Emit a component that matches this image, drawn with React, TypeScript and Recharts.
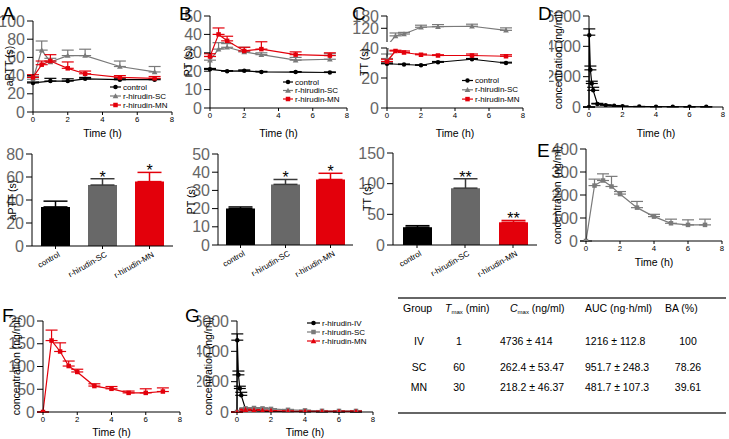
import React from 'react';
import { LineChart, Line, BarChart, Bar, XAxis, YAxis, ErrorBar, LabelList } from 'recharts';

const FONT = '"Liberation Sans", Arial, Helvetica, sans-serif';
const RED = '#e3000b';
const GRAY = '#7a7a7a';
const BAR_GRAY = '#686868';
const BLACK = '#000000';

// coagulation time course (A-C, top row)
const ctrlTime = [0, 1, 2, 3, 5, 7];
const doseTime = [0, 0.5, 1, 2, 3, 5, 7];

const apttCtrl = [32, 34, 34, 36.5, 35.5, 35.5];
const apttCtrlErr = [1, 3, 2.5, 1.5, 1, 1];
const apttSc = [36, 68, 55, 62, 62, 50, 44];
const apttScErr = [3, 10, 4, 6, 7, 6, 6];
const apttMn = [38, 52, 56, 48, 42, 38, 37];
const apttMnErr = [3, 4, 7, 7, 3, 2, 2];

const ptCtrl = [21, 20, 20.2, 19.6, 19.5, 19.3];
const ptCtrlErr = [0.5, 0.3, 0.5, 0.3, 0.3, 0.3];
const ptSc = [26, 32, 33, 30.5, 29, 26, 26.5];
const ptScErr = [2, 3.5, 2, 2.5, 1, 1.5, 3];
const ptMn = [28, 40, 36.5, 31, 32, 29, 28.5];
const ptMnErr = [1.5, 3.5, 2.5, 2, 4, 1.5, 1.5];

const ttCtrl = [29.5, 29, 28.5, 30.5, 32.5, 30];
const ttCtrlErr = [0.5, 0.3, 0.3, 0.5, 0.5, 0.5];
const ttSc = [33, 83, 92, 125, 128, 130, 110];
const ttScErr = [3, 14, 8, 10, 10, 10, 12];
const ttMn = [31, 38, 37, 35.5, 35, 35, 34.5];
const ttMnErr = [1.5, 0.5, 1, 0.5, 0.5, 1, 1];

// bar summaries (A-C, middle row)
const groups = ['control', 'r-hirudin-SC', 'r-hirudin-MN'];
const barKeys = ['c', 's', 'm'];
const barFill = [BLACK, BAR_GRAY, RED];
const barErrColor = [BLACK, '#3a3a3a', RED];
const apttBar = [34, 53, 56];
const apttBarErr = [5, 5.5, 8];
const apttSig = ['', '*', '*'];
const ptBar = [20, 33.3, 36];
const ptBarErr = [0.9, 2.7, 3.4];
const ptSig = ['', '*', '*'];
const ttBar = [29, 92.7, 37];
const ttBarErr = [2.5, 15.3, 3];
const ttSig = ['', '**', '**'];

// pharmacokinetics (D-G)
const ivTime = [0, 0.0167, 0.083, 0.167, 0.25, 0.5, 1, 1.5, 2, 3, 4, 5, 6, 7];
const ivConc = [0, 4736, 2450, 1550, 1100, 200, 120, 80, 50, 30, 20, 15, 10, 10];
const ivErr = [0, 414, 250, 150, 200, 40, 20, 15, 10, 5, 5, 5, 5, 5];
const pkTime = [0, 0.5, 1, 1.5, 2, 3, 4, 5, 6, 7];
const scConc = [0, 241, 263, 237, 204, 145, 106, 77, 70, 70];
const scErr = [0, 28, 29, 44, 11, 27, 10, 18, 22, 25];
const mnConc = [0, 157, 133, 101, 88, 57, 51, 42, 42, 45];
const mnErr = [0, 23, 19, 11, 6, 5, 5, 4, 9, 8];

// PK parameter table
const tblGroup = ['IV', 'SC', 'MN'];
const tblTmax = ['1', '60', '30'];
const tblCmax = ['4736 ± 414', '262.4 ± 53.47', '218.2 ± 46.37'];
const tblAuc = ['1216 ± 112.8', '951.7 ± 248.3', '481.7 ± 107.3'];
const tblBa = ['100', '78.26', '39.61'];

type Rect = { x0: number; y0: number; x1: number; y1: number };
type Shape = 'circle' | 'square' | 'triangle';
type Pt = { t: number; v: number; err?: number[] };
type Series = { name: string; data: Pt[]; color: string; shape: Shape };

const L = 40;
const T = 6;
const R = 8;

// y axis look is set with css so the axis keeps recharts' default tick handling
const css = `
.recharts-yAxis .recharts-cartesian-axis-tick-value { font-size: 7.8px; fill: #000; font-family: ${FONT}; }
.recharts-yAxis .recharts-cartesian-axis-line,
.recharts-yAxis .recharts-cartesian-axis-tick-line { stroke: #000; }
`;

// place a chart so its plot area lands on rect r (page coords)
const frame = (r: Rect, b: number) => ({
  style: { position: 'absolute', left: r.x0 - L, top: r.y0 - T } as React.CSSProperties,
  width: r.x1 - r.x0 + L + R,
  height: r.y1 - r.y0 + T + b,
  margin: { top: T, right: R, bottom: 0, left: 0 },
});

const NumTick = ({ x, y, payload }: any) => (
  <text x={x} y={y} dy="0.72em" textAnchor="middle" fontSize={7.8} fontFamily={FONT} fill="#000">
    {payload.value}
  </text>
);

const axisStyle = {
  stroke: '#000',
  tickSize: 3,
  tickMargin: 1,
  interval: 0 as const,
  minTickGap: 0,
  tickLine: { stroke: '#000' },
  axisLine: { stroke: '#000' },
};

const pts = (t: number[], v: number[], e: number[]): Pt[] =>
  t.map((x, i) => ({ t: x, v: v[i], err: [0, e[i]] }));

const Mark = ({ cx, cy, shape, color, s = 4.5 }: any) => {
  if (cx == null || cy == null) return null;
  if (shape === 'circle') return <circle cx={cx} cy={cy} r={s / 2} fill={color} />;
  if (shape === 'square') return <rect x={cx - s / 2} y={cy - s / 2} width={s} height={s} fill={color} />;
  const h = s / 2 + 0.6;
  return <path d={`M${cx},${cy - h}L${cx + h},${cy + h * 0.8}L${cx - h},${cy + h * 0.8}Z`} fill={color} />;
};

const AxisText = ({ px, py, text, rotate }: any) => (
  <text
    x={px}
    y={py}
    transform={rotate ? `rotate(-90 ${px} ${py})` : undefined}
    textAnchor="middle"
    dominantBaseline={rotate ? 'central' : undefined}
    fontSize={10.5}
    fontFamily={FONT}
    fill="#000"
  >
    {text}
  </text>
);

const SlantTick = ({ x, y, payload }: any) => {
  const ax = x + 5;
  const ay = y + 6;
  return (
    <text x={ax} y={ay} transform={`rotate(-30 ${ax} ${ay})`} textAnchor="end" fontSize={8} fontFamily={FONT} fill="#000">
      {payload.value}
    </text>
  );
};

const Stars = (p: any) => {
  const vb = p.viewBox ?? p;
  if (!p.value) return null;
  return (
    <text x={vb.x + vb.width / 2} y={vb.y + 4} textAnchor="middle" fontSize={16} fontFamily={FONT} fill="#000">
      {p.value}
    </text>
  );
};

const LinePanel = ({ r, domain, ticks, lines, xTitleY, hideX = false }: any) => {
  const b = 40;
  const f = frame(r, b);
  const ox = r.x0 - L;
  const oy = r.y0 - T;
  const inside = (v: number) => v >= domain[0] && v <= domain[1];
  return (
    <div style={f.style}>
      <LineChart width={f.width} height={f.height} margin={f.margin}>
        <XAxis
          type="number"
          dataKey="t"
          domain={[0, 8]}
          ticks={[0, 2, 4, 6, 8]}
          height={b}
          {...axisStyle}
          tick={<NumTick />}
          {...(hideX ? { axisLine: false, tickLine: false, tick: false } : {})}
          label={xTitleY ? <AxisText px={(r.x0 + r.x1) / 2 - ox} py={xTitleY - oy} text="Time (h)" /> : undefined}
        />
        <YAxis type="number" width={L} domain={domain} ticks={ticks} allowDataOverflow interval={0} />
        {lines.map((s: Series) => (
          <Line
            key={s.name}
            name={s.name}
            data={s.data.map((d) => (inside(d.v) ? d : { ...d, err: undefined }))}
            dataKey="v"
            stroke={s.color}
            strokeWidth={1.2}
            isAnimationActive={false}
            activeDot={false}
            dot={(p: any) =>
              inside(p.payload.v) ? (
                <Mark key={`d${p.index}`} cx={p.cx} cy={p.cy} shape={s.shape} color={s.color} />
              ) : (
                <g key={`d${p.index}`} />
              )
            }
          >
            <ErrorBar dataKey="err" width={6} stroke={s.color} strokeWidth={1.2} direction="y" isAnimationActive={false} />
          </Line>
        ))}
      </LineChart>
    </div>
  );
};

const BarPanel = ({ r, domain, ticks, vals, errs, sigs }: any) => {
  const b = 48;
  const f = frame(r, b);
  const rows = groups.map((g, i) => ({
    name: g,
    [barKeys[i]]: vals[i],
    [barKeys[i] + 'E']: [0, errs[i]],
    cap: errs[i],
    sig: sigs[i],
  }));
  return (
    <div style={f.style}>
      <BarChart data={rows} width={f.width} height={f.height} margin={f.margin} barSize={29}>
        <XAxis dataKey="name" type="category" height={b} {...axisStyle} tick={<SlantTick />} />
        <YAxis type="number" width={L} domain={domain} ticks={ticks} allowDataOverflow interval={0} />
        {barKeys.map((k, i) => (
          <Bar key={k} dataKey={k} stackId="a" fill={barFill[i]} isAnimationActive={false}>
            <ErrorBar dataKey={k + 'E'} width={12} stroke={barErrColor[i]} strokeWidth={1.5} direction="y" isAnimationActive={false} />
          </Bar>
        ))}
        <Bar dataKey="cap" stackId="a" fill="none" isAnimationActive={false}>
          <LabelList dataKey="sig" content={<Stars />} />
        </Bar>
      </BarChart>
    </div>
  );
};

const KeyBox = ({ x, tx, y, dy, items }: any) => (
  <g>
    {items.map((it: any, i: number) => (
      <g key={it.name}>
        <line x1={x} x2={tx - 2} y1={y + i * dy} y2={y + i * dy} stroke={it.color} strokeWidth={1.2} />
        <Mark cx={(x + tx - 2) / 2} cy={y + i * dy} shape={it.shape} color={it.color} />
        <text x={tx} y={y + i * dy} dominantBaseline="central" fontSize={8} fontFamily={FONT} fill="#000">
          {it.name}
        </text>
      </g>
    ))}
  </g>
);

const coagKey = [
  { name: 'control', color: BLACK, shape: 'circle' },
  { name: 'r-hirudin-SC', color: GRAY, shape: 'triangle' },
  { name: 'r-hirudin-MN', color: RED, shape: 'square' },
];
const pkKey = [
  { name: 'r-hirudin-IV', color: BLACK, shape: 'circle' },
  { name: 'r-hirudin-SC', color: GRAY, shape: 'square' },
  { name: 'r-hirudin-MN', color: RED, shape: 'triangle' },
];

const coag = (c: number[], ce: number[], s: number[], se: number[], m: number[], me: number[]): Series[] => [
  { name: 'control', data: pts(ctrlTime, c, ce), color: BLACK, shape: 'circle' },
  { name: 'r-hirudin-SC', data: pts(doseTime, s, se), color: GRAY, shape: 'triangle' },
  { name: 'r-hirudin-MN', data: pts(doseTime, m, me), color: RED, shape: 'square' },
];

const ivSeries: Series = { name: 'r-hirudin-IV', data: pts(ivTime, ivConc, ivErr), color: BLACK, shape: 'circle' };
const scSeries: Series = { name: 'r-hirudin-SC', data: pts(pkTime, scConc, scErr), color: GRAY, shape: 'square' };
const mnSeries: Series = { name: 'r-hirudin-MN', data: pts(pkTime, mnConc, mnErr), color: RED, shape: 'triangle' };

const letters = [
  { t: 'A', x: 2, y: 20 },
  { t: 'B', x: 179, y: 20 },
  { t: 'C', x: 352, y: 20 },
  { t: 'D', x: 538, y: 20 },
  { t: 'E', x: 537, y: 157 },
  { t: 'F', x: 2, y: 322 },
  { t: 'G', x: 185, y: 322 },
];

const yTitles = [
  { text: 'aPTT (s)', x: 9, y: 66 },
  { text: 'PT (s)', x: 188, y: 62 },
  { text: 'TT (s)', x: 364, y: 62 },
  { text: 'concentration (ng/ml)', x: 558, y: 60 },
  { text: 'aPTT (s)', x: 12, y: 200 },
  { text: 'PT (s)', x: 191, y: 200 },
  { text: 'TT (s)', x: 367, y: 197 },
  { text: 'concentration (ng/ml)', x: 557, y: 195 },
  { text: 'concentration (ng/ml)', x: 16, y: 366 },
  { text: 'concentration (ng/ml)', x: 208, y: 366 },
];

const colX = [419, 459, 500, 585, 688];
const rowY = [345, 371, 391];

export default function App() {
  return (
    <div
      style={{
        position: 'absolute',
        left: 0,
        top: 0,
        width: 729,
        height: 439,
        background: '#fff',
        overflow: 'hidden',
        fontFamily: FONT,
      }}
    >
      <style>{css}</style>
      <LinePanel
        r={{ x0: 33, y0: 21, x1: 172, y1: 112 }}
        domain={[0, 100]}
        ticks={[0, 20, 40, 60, 80, 100]}
        lines={coag(apttCtrl, apttCtrlErr, apttSc, apttScErr, apttMn, apttMnErr)}
        xTitleY={137}
      />
      <LinePanel
        r={{ x0: 210, y0: 16, x1: 347, y1: 108 }}
        domain={[0, 50]}
        ticks={[0, 10, 20, 30, 40, 50]}
        lines={coag(ptCtrl, ptCtrlErr, ptSc, ptScErr, ptMn, ptMnErr)}
        xTitleY={137}
      />
      {/* broken axis: upper segment */}
      <LinePanel
        r={{ x0: 387, y0: 16, x1: 523, y1: 42 }}
        domain={[53, 180]}
        ticks={[120, 180]}
        lines={coag(ttCtrl, ttCtrlErr, ttSc, ttScErr, ttMn, ttMnErr).slice(1, 2)}
        hideX
      />
      <LinePanel
        r={{ x0: 387, y0: 48, x1: 523, y1: 108 }}
        domain={[0, 40]}
        ticks={[0, 20, 40]}
        lines={coag(ttCtrl, ttCtrlErr, ttSc, ttScErr, ttMn, ttMnErr)}
        xTitleY={137}
      />
      <LinePanel
        r={{ x0: 589, y0: 16, x1: 723, y1: 107 }}
        domain={[0, 6000]}
        ticks={[0, 2000, 4000, 6000]}
        lines={[ivSeries]}
        xTitleY={137}
      />

      <BarPanel
        r={{ x0: 32, y0: 154, x1: 173, y1: 246 }}
        domain={[0, 80]}
        ticks={[0, 20, 40, 60, 80]}
        vals={apttBar}
        errs={apttBarErr}
        sigs={apttSig}
      />
      <BarPanel
        r={{ x0: 218, y0: 154, x1: 353, y1: 245 }}
        domain={[0, 50]}
        ticks={[0, 10, 20, 30, 40, 50]}
        vals={ptBar}
        errs={ptBarErr}
        sigs={ptSig}
      />
      <BarPanel
        r={{ x0: 393, y0: 153, x1: 537, y1: 245 }}
        domain={[0, 150]}
        ticks={[0, 50, 100, 150]}
        vals={ttBar}
        errs={ttBarErr}
        sigs={ttSig}
      />

      <LinePanel
        r={{ x0: 586, y0: 149, x1: 722, y1: 241 }}
        domain={[0, 400]}
        ticks={[0, 100, 200, 300, 400]}
        lines={[scSeries]}
        xTitleY={266}
      />
      <LinePanel
        r={{ x0: 43, y0: 321, x1: 180, y1: 412 }}
        domain={[0, 200]}
        ticks={[0, 50, 100, 150, 200]}
        lines={[{ ...mnSeries, shape: 'square' }]}
        xTitleY={436}
      />
      <LinePanel
        r={{ x0: 237, y0: 321, x1: 373, y1: 412 }}
        domain={[0, 6000]}
        ticks={[0, 2000, 4000, 6000]}
        lines={[ivSeries, scSeries, mnSeries]}
        xTitleY={436}
      />

      <svg
        width={729}
        height={439}
        style={{ position: 'absolute', left: 0, top: 0, pointerEvents: 'none' }}
        fontFamily={FONT}
      >
        {letters.map((l) => (
          <text key={l.t} x={l.x} y={l.y} fontSize={19} fill="#000">
            {l.t}
          </text>
        ))}
        {yTitles.map((t, i) => (
          <AxisText key={i} px={t.x} py={t.y} text={t.text} rotate />
        ))}
        <KeyBox x={110} tx={123} y={87} dy={9} items={coagKey} />
        <KeyBox x={283} tx={295} y={82} dy={8.5} items={coagKey} />
        <KeyBox x={462} tx={475} y={80.5} dy={9.3} items={coagKey} />
        <KeyBox x={307} tx={322} y={323} dy={9} items={pkKey} />

        {/* PK parameter table */}
        <line x1={398} x2={726} y1={298} y2={298} stroke="#333" strokeWidth={1.3} />
        <line x1={398} x2={726} y1={413} y2={413} stroke="#333" strokeWidth={1.3} />
        <g fontSize={10.5} fill="#000">
          <text x={403} y={312}>Group</text>
          <text x={445} y={312}>
            <tspan fontStyle="italic">T</tspan>
            <tspan fontSize={6} dy={2}>max</tspan>
            <tspan dy={-2}> (min)</tspan>
          </text>
          <text x={510} y={312}>
            <tspan fontStyle="italic">C</tspan>
            <tspan fontSize={6} dy={2}>max</tspan>
            <tspan dy={-2}> (ng/ml)</tspan>
          </text>
          <text x={585} y={312}>AUC (ng·h/ml)</text>
          <text x={665} y={312}>BA (%)</text>
          {tblGroup.map((g, i) => (
            <g key={g}>
              <text x={colX[0]} y={rowY[i]} textAnchor="middle">{g}</text>
              <text x={colX[1]} y={rowY[i]} textAnchor="middle">{tblTmax[i]}</text>
              <text x={colX[2]} y={rowY[i]}>{tblCmax[i]}</text>
              <text x={colX[3]} y={rowY[i]}>{tblAuc[i]}</text>
              <text x={colX[4]} y={rowY[i]} textAnchor="middle">{tblBa[i]}</text>
            </g>
          ))}
        </g>
      </svg>
    </div>
  );
}
